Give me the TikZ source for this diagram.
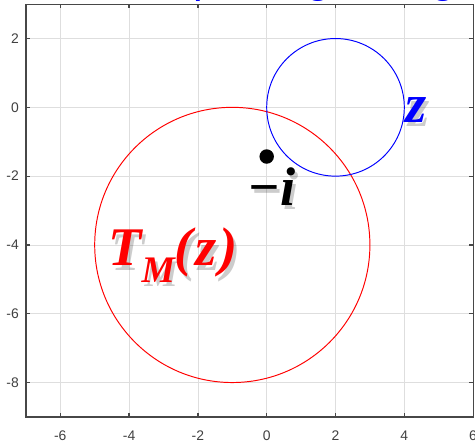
\documentclass[tikz,border=0pt]{standalone}
\usepackage{fontspec}
\setmainfont{Liberation Serif}
\setsansfont{Liberation Sans}
\usetikzlibrary{positioning}

\newcommand{\subM}{\raisebox{-0.3em}{\fontsize{31}{31}\selectfont M}}

\tikzset{
  gridline/.style={draw=black!13,line width=0.6pt},
  frameline/.style={draw=black!72,line width=1pt},
  ticklabel/.style={font=\sffamily\fontsize{11.5}{12}\selectfont,text=black!75,inner sep=0pt},
  biglabel/.style={font=\bfseries\itshape\fontsize{45}{45}\selectfont,inner sep=0pt,anchor=base west},
  shadowlabel/.style={biglabel,text=black,opacity=0.2},
  titlebit/.style={font=\sffamily\fontsize{36}{36}\selectfont,text=blue,inner sep=0pt,anchor=base},
}

\begin{document}
\begin{tikzpicture}
\useasboundingbox (-7.753,-9.74) rectangle (6.055,3.12);

% grid
\foreach \x in {-6,-4,...,4} \draw[gridline] (\x,-9) -- (\x,3);
\foreach \y in {-8,-6,...,2} \draw[gridline] (-7,\y) -- (6,\y);

% circles
\draw[red,line width=0.8pt] (-1,-4) circle (4);
\draw[blue,line width=0.8pt] (2,0) circle (2);

% frame and ticks
\draw[frameline] (-7,-9) rectangle (6,3);
\foreach \x in {-6,-4,...,4} {
  \draw[frameline] (\x,-9) -- ++(0,0.12);
  \draw[frameline] (\x,3) -- ++(0,-0.12);
}
\foreach \y in {-8,-6,...,2} {
  \draw[frameline] (-7,\y) -- ++(0.12,0);
  \draw[frameline] (6,\y) -- ++(-0.12,0);
}
\foreach \x in {-6,-4,...,6} \node[ticklabel,anchor=base] (xl\x) at (\x,-9.68) {\x};
\foreach \y in {-8,-6,...,2} \node[ticklabel,anchor=east] (yl\y) at (-7.2,\y) {\y};

% point
\coordinate (pt) at (0,-1.43);
\fill[black] (pt) circle (0.21);

% labels with shadow
\node[shadowlabel] (zs) at (4.12,-0.56) {z};
\node[biglabel,text=blue] (zlab) at (4.03,-0.44) {z};
\node[shadowlabel] (is) at (-0.47,-2.98) {−i};
\node[biglabel,text=black] (ilab) at (-0.56,-2.86) {−i};
\node[shadowlabel] (ts) at (-4.52,-4.73) {T\subM(\kern0.05em z\kern0.05em)};
\node[biglabel,text=red] (tlab) at (-4.61,-4.61) {T\subM(\kern0.05em z\kern0.05em)};

% title, cut off by the page edge
\begin{scope}
\clip (-7.753,-9.74) rectangle (6.055,3.12);
\node[titlebit] (tp) at (-1.79,3.33) {p};
\node[titlebit] (tg1) at (1.50,3.33) {g};
\node[titlebit] (tg2) at (5.13,3.33) {g};
\end{scope}
\end{tikzpicture}
\end{document}
